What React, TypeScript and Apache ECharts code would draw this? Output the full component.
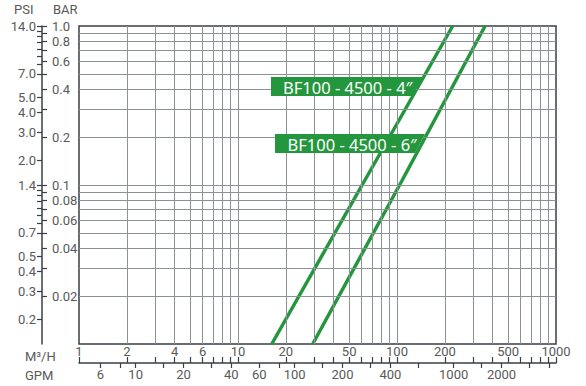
import React, { useEffect, useRef } from "react";
import * as echarts from "echarts";

// ---- data ----
const flowMin = 1;
const flowMax = 1000;
const barMin = 0.01;
const barMax = 1;
const psiPerBar = 14;
const m3hPerGpm = 0.2271;

// series: [M3/H, BAR]
const series4in: [number, number][] = [
  [16.3, 0.01],
  [62.9, 0.1075],
  [224, 1.0],
];
const series6in: [number, number][] = [
  [29.5, 0.01],
  [108, 0.1075],
  [358, 1.0],
];

const gridX = [2, 3, 4, 5, 6, 7, 8, 9, 10, 20, 30, 40, 50, 60, 70, 80, 90, 100, 200, 300, 400, 500, 600, 700, 800, 900];
const gridY = [0.02, 0.03, 0.04, 0.05, 0.06, 0.07, 0.08, 0.09, 0.1, 0.2, 0.3, 0.4, 0.5, 0.6, 0.7, 0.8, 0.9];

const m3hLabels = ["1", "2", "4", "6", "10", "20", "50", "100", "200", "500", "1000"];
const m3hTicks = [1, 2, 3, 4, 5, 6, 7, 8, 9, 10, 20, 30, 40, 50, 60, 70, 80, 90, 100, 200, 300, 400, 500, 600, 700, 800, 900, 1000];
const gpmLabels = ["6", "10", "20", "40", "60", "100", "200", "400", "1000", "2000"];
const gpmTicks = [6, 8, 10, 15, 20, 30, 40, 60, 80, 100, 150, 200, 300, 400, 600, 1000, 1500, 2000, 3000, 4000];
const barLabels = ["1.0", "0.8", "0.6", "0.4", "0.2", "0.1", "0.08", "0.06", "0.04", "0.02"];
const barTicks = [1, 0.9, 0.8, 0.7, 0.6, 0.5, 0.4, 0.3, 0.2, 0.1, 0.09, 0.08, 0.07, 0.06, 0.05, 0.04, 0.03, 0.02];
const psiLabels = ["14.0", "7.0", "5.0", "4.0", "3.0", "2.0", "1.4", "0.7", "0.5", "0.4", "0.3", "0.2"];
const psiTicks = [14, 13, 12, 11, 10, 9, 8, 7, 5, 4, 3, 2, 1.4, 1.3, 1.2, 1.1, 1.0, 0.9, 0.8, 0.7, 0.5, 0.4, 0.3, 0.2];

const GREEN = "#24963e";
const LABEL = "#595959";
const AXIS = "#3a3f44";
const GRID = "#8c9196";
const FONT = "Roboto, 'Noto Sans', sans-serif";

const lg = (v: number) => Math.log10(v);

function makeFormatter(labels: string[]) {
  const vals = labels.map((s) => lg(parseFloat(s)));
  return (v: number) => {
    const i = vals.findIndex((x) => Math.abs(x - v) < 1e-6);
    return i >= 0 ? labels[i] : "";
  };
}

export default function App() {
  const ref = useRef<HTMLDivElement>(null);

  useEffect(() => {
    if (!ref.current) return;
    const chart = echarts.init(ref.current, null, { renderer: "svg" });

    const hiddenAxisParts = {
      axisLine: { show: false, onZero: false },
      axisTick: { show: false },
      axisLabel: { show: false },
      splitLine: { show: false },
    };

    const gridLineStyle = { color: GRID, width: 1, type: "solid" as const };

    const option: any = {
      animation: false,
      grid: {
        left: 79,
        top: 26,
        width: 477,
        height: 318,
        show: true,
        borderColor: AXIS,
        borderWidth: 1.5,
        backgroundColor: "transparent",
      },
      xAxis: [
        { type: "log", logBase: 10, min: flowMin, max: flowMax, position: "bottom", ...hiddenAxisParts },
        {
          type: "value",
          min: lg(flowMin),
          max: lg(flowMax),
          position: "bottom",
          offset: 19,
          axisLine: { show: true, onZero: false, lineStyle: { color: AXIS, width: 1.5 } },
          axisTick: { show: true, inside: true, length: 6, lineStyle: { color: AXIS, width: 1.2 }, customValues: m3hTicks.map(lg) },
          axisLabel: {
            show: true,
            inside: true,
            margin: 5,
            color: LABEL,
            fontSize: 13,
            fontFamily: FONT,
            customValues: m3hLabels.map((s) => lg(parseFloat(s))),
            formatter: makeFormatter(m3hLabels),
          },
          splitLine: { show: false },
        },
        {
          type: "value",
          min: lg(flowMin / m3hPerGpm),
          max: lg(flowMax / m3hPerGpm),
          position: "bottom",
          offset: 19,
          axisLine: { show: false, onZero: false },
          axisTick: { show: true, inside: false, length: 5, lineStyle: { color: AXIS, width: 1.2 }, customValues: gpmTicks.map(lg) },
          axisLabel: {
            show: true,
            inside: false,
            margin: 5,
            color: LABEL,
            fontSize: 13,
            fontFamily: FONT,
            customValues: gpmLabels.map((s) => lg(parseFloat(s))),
            formatter: makeFormatter(gpmLabels),
          },
          splitLine: { show: false },
        },
      ],
      yAxis: [
        { type: "log", logBase: 10, min: barMin, max: barMax, position: "left", ...hiddenAxisParts },
        {
          type: "value",
          min: lg(barMin),
          max: lg(barMax),
          position: "left",
          offset: 37,
          axisLine: { show: true, onZero: false, lineStyle: { color: AXIS, width: 1.5 } },
          axisTick: { show: true, inside: true, length: 5, lineStyle: { color: AXIS, width: 1.2 }, customValues: barTicks.map(lg) },
          axisLabel: {
            show: true,
            inside: true,
            margin: 10,
            color: LABEL,
            fontSize: 13,
            fontFamily: FONT,
            customValues: barLabels.map((s) => lg(parseFloat(s))),
            formatter: makeFormatter(barLabels),
          },
          splitLine: { show: false },
        },
        {
          type: "value",
          min: lg(barMin * psiPerBar),
          max: lg(barMax * psiPerBar),
          position: "left",
          offset: 37,
          axisLine: { show: false, onZero: false },
          axisTick: { show: true, inside: false, length: 5, lineStyle: { color: AXIS, width: 1.2 }, customValues: psiTicks.map(lg) },
          axisLabel: {
            show: true,
            inside: false,
            margin: 6,
            color: LABEL,
            fontSize: 13,
            fontFamily: FONT,
            customValues: psiLabels.map((s) => lg(parseFloat(s))),
            formatter: makeFormatter(psiLabels),
          },
          splitLine: { show: false },
        },
      ],
      series: [
        {
          type: "line",
          name: "grid",
          xAxisIndex: 0,
          yAxisIndex: 0,
          data: [],
          silent: true,
          z: 1,
          markLine: {
            silent: true,
            symbol: "none",
            label: { show: false },
            lineStyle: gridLineStyle,
            data: [
              ...gridX.map((v) => ({ xAxis: v })),
              ...gridY.map((v) => ({ yAxis: v })),
            ],
          },
        },
        {
          type: "line",
          name: "BF100 - 4500 - 4″",
          xAxisIndex: 0,
          yAxisIndex: 0,
          data: series4in,
          showSymbol: false,
          symbol: "none",
          lineStyle: { color: GREEN, width: 3.5 },
          z: 3,
        },
        {
          type: "line",
          name: "BF100 - 4500 - 6″",
          xAxisIndex: 0,
          yAxisIndex: 0,
          data: series6in,
          showSymbol: false,
          symbol: "none",
          lineStyle: { color: GREEN, width: 3.5 },
          z: 3,
        },
      ],
      graphic: [
        { type: "text", left: 14, top: 3, style: { text: "PSI", fill: LABEL, font: `13px ${FONT}` } },
        { type: "text", left: 53, top: 3, style: { text: "BAR", fill: LABEL, font: `13px ${FONT}` } },
        { type: "text", left: 25, top: 350, style: { text: "M³/H", fill: LABEL, font: `13px ${FONT}` } },
        { type: "text", left: 25, top: 369, style: { text: "GPM", fill: LABEL, font: `13px ${FONT}` } },
        {
          type: "polygon",
          z: 10,
          shape: { points: [[271, 77], [423, 77], [412, 96], [271, 96]] },
          style: { fill: GREEN },
        },
        {
          type: "text",
          z: 11,
          x: 283,
          y: 87,
          style: { text: "BF100 - 4500 - 4″", fill: "#fff", font: `16.5px 'Noto Sans', sans-serif`, verticalAlign: "middle" },
        },
        {
          type: "polygon",
          z: 10,
          shape: { points: [[275, 134], [425, 134], [415, 153], [275, 153]] },
          style: { fill: GREEN },
        },
        {
          type: "text",
          z: 11,
          x: 287.5,
          y: 144,
          style: { text: "BF100 - 4500 - 6″", fill: "#fff", font: `16.5px 'Noto Sans', sans-serif`, verticalAlign: "middle" },
        },
      ],
    };

    chart.setOption(option);
    return () => chart.dispose();
  }, []);

  return (
    <div
      ref={ref}
      style={{ position: "fixed", left: 0, top: 0, width: 586, height: 386, background: "#fff" }}
    />
  );
}
